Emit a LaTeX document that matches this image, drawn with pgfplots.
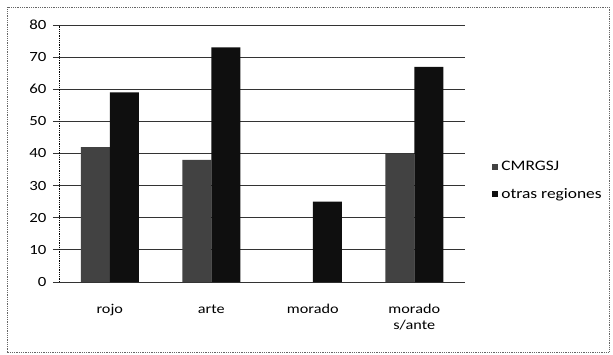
\documentclass[border=0pt]{standalone}
\usepackage{fontspec}
\setmainfont{Carlito}[FakeStretch=1.2]
\usepackage{pgfplots}
\pgfplotsset{compat=1.18}
\definecolor{cmr}{gray}{0.26}
\definecolor{otr}{gray}{0.06}
\begin{document}
\begin{tikzpicture}[x=1pt,y=1pt]
\useasboundingbox (0,0) rectangle (613,354);
\draw[black!60,densely dotted,line width=0.8pt] (7,2) rectangle (609,347);
\begin{axis}[
  at={(59pt,72pt)}, anchor=south west,
  width=406pt, height=257pt, scale only axis,
  ybar=0pt, bar width=29pt,
  xmin=-0.5, xmax=3.5, ymin=0, ymax=80,
  ytick={0,10,...,80},
  xtick={0,1,2,3},
  xticklabels={rojo,arte,morado,morado\\s/ante},
  xticklabel style={align=center, yshift=-13pt, font=\fontsize{13.5}{16}\selectfont},
  yticklabel style={xshift=-3pt, font=\fontsize{14}{16}\selectfont},
  /pgf/number format/assume math mode=true,
  major x tick style={draw=none},
  extra x ticks={-0.5,0.5,1.5,2.5,3.5},
  extra x tick labels={},
  extra x tick style={major tick length=5pt, tick style={draw=black!70, line width=0.6pt}, grid=none},
  tick align=outside, major tick length=6pt,
  ytick style={draw=black!80, line width=0.9pt},
  ymajorgrids, grid style={black!80, line width=0.9pt},
  axis x line*=bottom, axis y line*=left,
  x axis line style={black!80, line width=0.9pt, -},
  y axis line style={black, densely dotted, line width=0.8pt, -},
  legend style={at={(1.067,0.395)}, anchor=west, draw=none, fill=none,
    inner xsep=0pt, font=\fontsize{14.5}{16}\selectfont, row sep=12pt,
    legend cell align=left, nodes={inner xsep=3pt}},
  legend image code/.code={\fill[#1] (0pt,-3pt) rectangle (6pt,3pt);},
]
\addplot[fill=cmr, draw=none] coordinates {(0,42) (1,38) (2,0) (3,40)};
\addlegendentry{CMRGSJ}
\addplot[fill=otr, draw=none] coordinates {(0,59) (1,73) (2,25) (3,67)};
\addlegendentry{otras regiones}
\end{axis}
\end{tikzpicture}
\end{document}
